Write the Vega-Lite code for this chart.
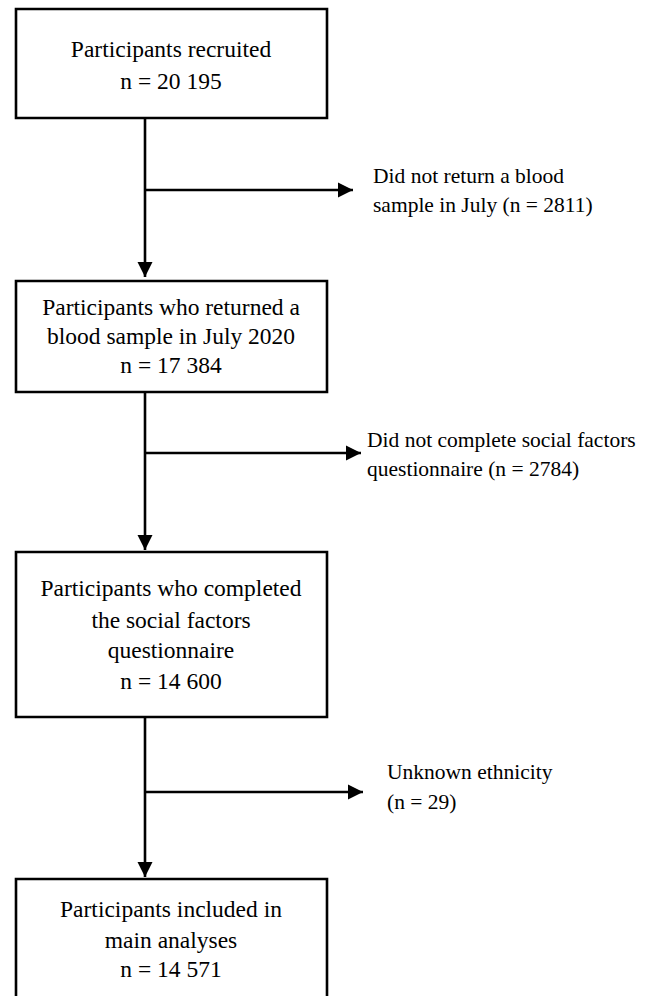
{
  "$schema": "https://vega.github.io/schema/vega-lite/v6.json",
  "width": 647,
  "height": 996,
  "autosize": {"type": "fit", "contains": "padding"},
  "padding": 0,
  "background": "white",
  "config": {"view": {"stroke": null}},
  "datasets": {
    "boxes": [
      {"box": "recruited", "x": 16, "x2": 327, "y": 9, "y2": 118},
      {"box": "returned", "x": 16, "x2": 327, "y": 281, "y2": 392},
      {"box": "completed", "x": 16, "x2": 327, "y": 552, "y2": 717},
      {"box": "included", "x": 16, "x2": 327, "y": 879, "y2": 1010}
    ],
    "arrows": [
      {"dir": "down", "x": 145, "y": 118, "x2": 145, "y2": 277},
      {"dir": "right", "x": 145, "y": 190, "x2": 353, "y2": 190},
      {"dir": "down", "x": 145, "y": 392, "x2": 145, "y2": 550},
      {"dir": "right", "x": 145, "y": 453, "x2": 361, "y2": 453},
      {"dir": "down", "x": 145, "y": 717, "x2": 145, "y2": 877},
      {"dir": "right", "x": 145, "y": 792, "x2": 363, "y2": 792}
    ],
    "boxtext": [
      {"x": 171, "y": 50, "t": "Participants recruited"},
      {"x": 171, "y": 82, "t": "n = 20 195"},
      {"x": 171, "y": 308, "t": "Participants who returned a"},
      {"x": 171, "y": 337, "t": "blood sample in July 2020"},
      {"x": 171, "y": 366, "t": "n = 17 384"},
      {"x": 171, "y": 589, "t": "Participants who completed"},
      {"x": 171, "y": 621, "t": "the social factors"},
      {"x": 171, "y": 651, "t": "questionnaire"},
      {"x": 171, "y": 682, "t": "n = 14 600"},
      {"x": 171, "y": 910, "t": "Participants included in"},
      {"x": 171, "y": 941, "t": "main analyses"},
      {"x": 171, "y": 970, "t": "n = 14 571"}
    ],
    "sidetext": [
      {"x": 373, "y": 177, "t": "Did not return a blood"},
      {"x": 373, "y": 206, "t": "sample in July (n = 2811)"},
      {"x": 367, "y": 441, "t": "Did not complete social factors"},
      {"x": 367, "y": 470, "t": "questionnaire (n = 2784)"},
      {"x": 387, "y": 773, "t": "Unknown ethnicity"},
      {"x": 387, "y": 803, "t": "(n = 29)"}
    ]
  },
  "layer": [
    {
      "data": {"name": "boxes"},
      "mark": {"type": "rect", "fill": "white", "stroke": "black", "strokeWidth": 2.6, "clip": true},
      "encoding": {
        "x": {"field": "x", "type": "quantitative", "scale": {"domain": [0, 647], "nice": false, "zero": false}, "axis": null},
        "x2": {"field": "x2"},
        "y": {"field": "y", "type": "quantitative", "scale": {"domain": [0, 996], "nice": false, "zero": false, "reverse": true}, "axis": null},
        "y2": {"field": "y2"}
      }
    },
    {
      "data": {"name": "arrows"},
      "mark": {"type": "rule", "stroke": "black", "strokeWidth": 2.6},
      "encoding": {
        "x": {"field": "x", "type": "quantitative"},
        "x2": {"field": "x2"},
        "y": {"field": "y", "type": "quantitative"},
        "y2": {"field": "y2"}
      }
    },
    {
      "data": {"name": "arrows"},
      "mark": {"type": "point", "filled": true, "fill": "black", "stroke": null, "opacity": 1, "size": 900},
      "encoding": {
        "x": {"field": "x2", "type": "quantitative"},
        "y": {"field": "y2", "type": "quantitative"},
        "shape": {
          "field": "dir",
          "type": "nominal",
          "scale": {"domain": ["down", "right"], "range": ["M -0.5 -1 L 0.5 -1 L 0 0 Z", "M -1 -0.5 L -1 0.5 L 0 0 Z"]},
          "legend": null
        }
      }
    },
    {
      "data": {"name": "boxtext"},
      "mark": {"type": "text", "font": "Liberation Serif", "fontSize": 23.5, "align": "center", "baseline": "middle", "color": "black"},
      "encoding": {
        "x": {"field": "x", "type": "quantitative"},
        "y": {"field": "y", "type": "quantitative"},
        "text": {"field": "t"}
      }
    },
    {
      "data": {"name": "sidetext"},
      "mark": {"type": "text", "font": "Liberation Serif", "fontSize": 21.5, "align": "left", "baseline": "middle", "color": "black"},
      "encoding": {
        "x": {"field": "x", "type": "quantitative"},
        "y": {"field": "y", "type": "quantitative"},
        "text": {"field": "t"}
      }
    }
  ]
}
